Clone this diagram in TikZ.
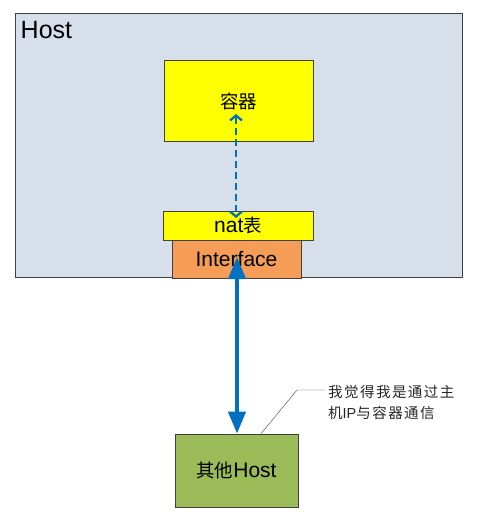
\documentclass[tikz,border=0pt]{standalone}
\usepackage{fontspec}
\setmainfont{Liberation Sans}
\newfontfamily\cjk[Scale=0.88]{Noto Sans CJK SC}
\newfontfamily\cjknote[LetterSpace=10]{Noto Sans CJK SC}
\usepackage{tikz}
\usetikzlibrary{arrows.meta}

\definecolor{hostbg}{RGB}{214,223,234}
\definecolor{boxyellow}{RGB}{255,255,0}
\definecolor{ifaceorange}{RGB}{245,157,86}
\definecolor{othergreen}{RGB}{155,187,89}
\definecolor{linkblue}{RGB}{0,112,192}

\tikzset{
    box/.style = {draw = black!75, semithick, inner sep = 0},
    big/.style = {font = \fontsize{21}{21}\selectfont}
}

\begin{document}
\begin{tikzpicture}[x = 1pt, y = -1pt]
    \useasboundingbox (0, 0) rectangle (477, 518);

    %% host
    \node[box, fill = hostbg, minimum width = 447pt, minimum height = 264pt]
        (host) at (238.5, 145) {};
    \node[anchor = north west, inner sep = 0, font = \fontsize{25}{25}\selectfont]
        (hostlabel) at (20.5, 21.5) {Host};

    %% boxes inside
    \node[box, fill = boxyellow, minimum width = 149pt, minimum height = 81pt]
        (container) at (238.5, 100.5) {};
    \node[big] (containerlabel) at (238.5, 101) {\cjk 容器};
    \node[box, big, fill = boxyellow, minimum width = 150pt, minimum height = 29pt]
        (nat) at (238, 225.5) {nat{\cjk 表}};
    \node[box, big, fill = ifaceorange, minimum width = 129pt, minimum height = 38pt]
        (iface) at (236.5, 259) {Interface};

    %% other host
    \node[box, big, fill = othergreen, minimum width = 123pt, minimum height = 73pt]
        (other) at (236.5, 470.5) {{\cjk 其他}Host};

    %% links
    \coordinate (dtop) at (236, 114);
    \coordinate (dbot) at (236, 218);
    \draw[linkblue, line width = 2.3pt, dash pattern = on 7pt off 4pt,
        {Straight Barb[length = 5pt, width = 12pt]}-{Straight Barb[length = 5pt, width = 12pt]}]
        (dtop) -- (dbot);
    \coordinate (itop) at (237, 257);
    \draw[linkblue, line width = 4pt,
        {Triangle[length = 22pt, width = 17pt]}-{Triangle[length = 22pt, width = 17pt]}]
        (itop) -- (other.north -| itop);

    %% note
    \coordinate (bend) at (297, 390);
    \coordinate (noteend) at (325, 390);
    \draw[black!75, thin] (other.north -| 261, 0) -- (bend) -- (noteend);
    \node[anchor = west, inner sep = 0, align = left,
        font = \fontsize{14.5}{21}\selectfont\cjknote, text = black!85]
        (note) at (328, 402.5) {我觉得我是通过主\\机{\fontspec{Liberation Sans}IP}与容器通信};
\end{tikzpicture}
\end{document}
